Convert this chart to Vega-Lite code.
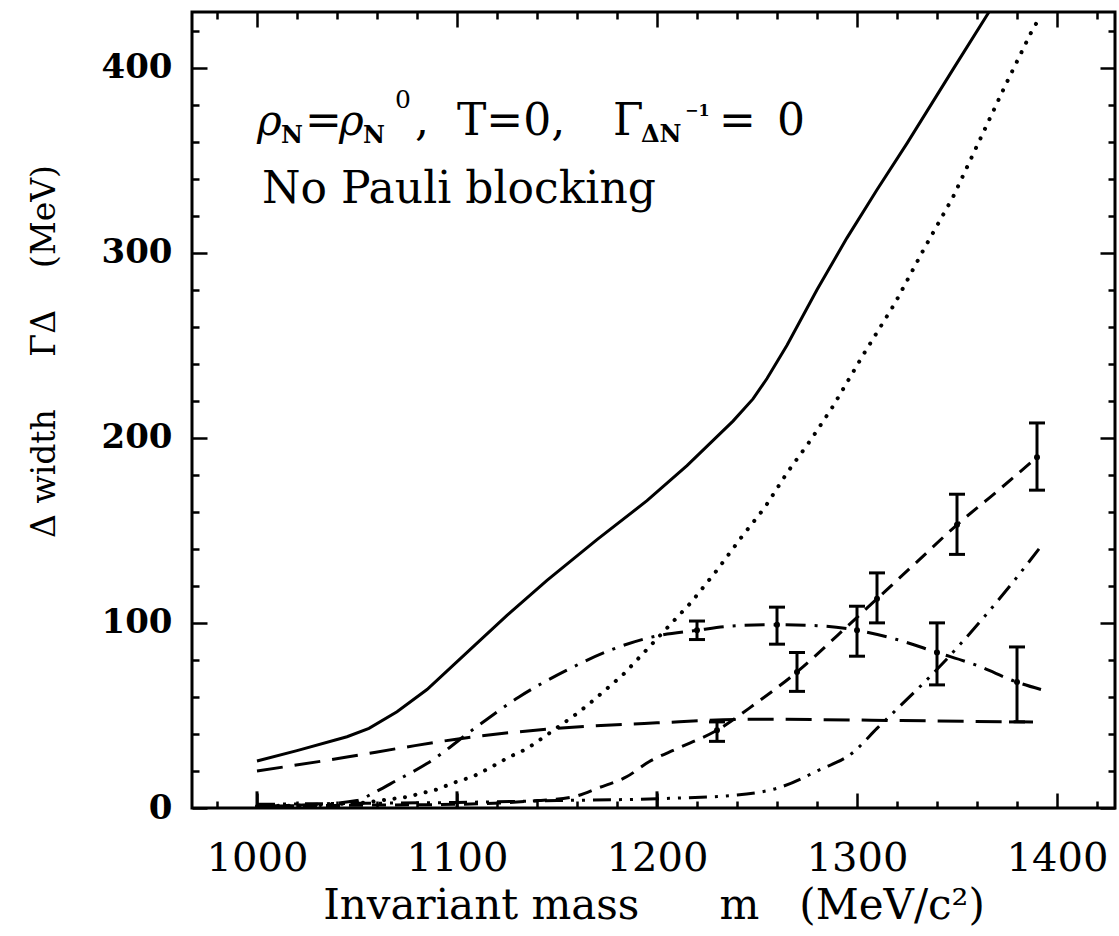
{
  "$schema": "https://vega.github.io/schema/vega-lite/v6.json",
  "width": 923,
  "height": 796,
  "autosize": {"type": "none"},
  "padding": {"left": 192, "top": 12, "right": 4, "bottom": 128},
  "background": "white",
  "config": {
    "view": {"stroke": "black", "strokeWidth": 3},
    "axis": {"grid": false, "domain": false, "tickColor": "black", "tickWidth": 2.5, "labelColor": "black", "titleColor": "black", "labelOverlap": false, "labelFlush": false, "titleFontWeight": "normal"}
  },
  "datasets": {
    "curves": [
      {"s": "solid", "m": 1000, "g": 25.4}, {"s": "solid", "m": 1020, "g": 31}, {"s": "solid", "m": 1045, "g": 38.5}, {"s": "solid", "m": 1056, "g": 43}, {"s": "solid", "m": 1070, "g": 52}, {"s": "solid", "m": 1085, "g": 64}, {"s": "solid", "m": 1108, "g": 87}, {"s": "solid", "m": 1125, "g": 104}, {"s": "solid", "m": 1145, "g": 123}, {"s": "solid", "m": 1170, "g": 145}, {"s": "solid", "m": 1195, "g": 166}, {"s": "solid", "m": 1215, "g": 185}, {"s": "solid", "m": 1238, "g": 209}, {"s": "solid", "m": 1248, "g": 221}, {"s": "solid", "m": 1255, "g": 232}, {"s": "solid", "m": 1265, "g": 250}, {"s": "solid", "m": 1280, "g": 280}, {"s": "solid", "m": 1295, "g": 308}, {"s": "solid", "m": 1310, "g": 334}, {"s": "solid", "m": 1325, "g": 359}, {"s": "solid", "m": 1348, "g": 399}, {"s": "solid", "m": 1366, "g": 430}, {"s": "solid", "m": 1372, "g": 440},
      {"s": "dotted", "m": 1000, "g": 1}, {"s": "dotted", "m": 1030, "g": 1.5}, {"s": "dotted", "m": 1055, "g": 3}, {"s": "dotted", "m": 1075, "g": 6}, {"s": "dotted", "m": 1090, "g": 10}, {"s": "dotted", "m": 1098, "g": 13.5}, {"s": "dotted", "m": 1108, "g": 17}, {"s": "dotted", "m": 1117, "g": 22}, {"s": "dotted", "m": 1126, "g": 27.5}, {"s": "dotted", "m": 1135, "g": 32}, {"s": "dotted", "m": 1143, "g": 38}, {"s": "dotted", "m": 1160, "g": 51}, {"s": "dotted", "m": 1168, "g": 58}, {"s": "dotted", "m": 1183, "g": 72}, {"s": "dotted", "m": 1197, "g": 88}, {"s": "dotted", "m": 1217, "g": 111}, {"s": "dotted", "m": 1230, "g": 128.5}, {"s": "dotted", "m": 1242, "g": 146}, {"s": "dotted", "m": 1254, "g": 162.5}, {"s": "dotted", "m": 1265, "g": 181}, {"s": "dotted", "m": 1277, "g": 199}, {"s": "dotted", "m": 1288, "g": 217}, {"s": "dotted", "m": 1303, "g": 244.6}, {"s": "dotted", "m": 1319, "g": 272.7}, {"s": "dotted", "m": 1333, "g": 301}, {"s": "dotted", "m": 1348, "g": 330}, {"s": "dotted", "m": 1361, "g": 360}, {"s": "dotted", "m": 1374, "g": 390}, {"s": "dotted", "m": 1388, "g": 421}, {"s": "dotted", "m": 1392, "g": 428},
      {"s": "longdash", "m": 1000, "g": 20}, {"s": "longdash", "m": 1045, "g": 27.5}, {"s": "longdash", "m": 1075, "g": 33}, {"s": "longdash", "m": 1105, "g": 38}, {"s": "longdash", "m": 1150, "g": 43}, {"s": "longdash", "m": 1200, "g": 46}, {"s": "longdash", "m": 1250, "g": 48}, {"s": "longdash", "m": 1300, "g": 47.5}, {"s": "longdash", "m": 1340, "g": 47}, {"s": "longdash", "m": 1388, "g": 46.5},
      {"s": "dashdot", "m": 1000, "g": 1}, {"s": "dashdot", "m": 1030, "g": 2}, {"s": "dashdot", "m": 1050, "g": 4}, {"s": "dashdot", "m": 1058, "g": 8}, {"s": "dashdot", "m": 1070, "g": 15}, {"s": "dashdot", "m": 1085, "g": 24}, {"s": "dashdot", "m": 1110, "g": 44}, {"s": "dashdot", "m": 1131, "g": 60}, {"s": "dashdot", "m": 1155, "g": 74.5}, {"s": "dashdot", "m": 1176, "g": 85}, {"s": "dashdot", "m": 1198, "g": 92.5}, {"s": "dashdot", "m": 1220, "g": 96}, {"s": "dashdot", "m": 1240, "g": 98.5}, {"s": "dashdot", "m": 1260, "g": 99}, {"s": "dashdot", "m": 1280, "g": 98.5}, {"s": "dashdot", "m": 1300, "g": 96}, {"s": "dashdot", "m": 1320, "g": 91}, {"s": "dashdot", "m": 1340, "g": 84}, {"s": "dashdot", "m": 1360, "g": 77}, {"s": "dashdot", "m": 1380, "g": 68}, {"s": "dashdot", "m": 1392, "g": 64},
      {"s": "dashed", "m": 1000, "g": 1}, {"s": "dashed", "m": 1050, "g": 1.5}, {"s": "dashed", "m": 1100, "g": 2}, {"s": "dashed", "m": 1140, "g": 4}, {"s": "dashed", "m": 1158, "g": 6}, {"s": "dashed", "m": 1171, "g": 11}, {"s": "dashed", "m": 1185, "g": 17}, {"s": "dashed", "m": 1196, "g": 25}, {"s": "dashed", "m": 1210, "g": 32}, {"s": "dashed", "m": 1230, "g": 42}, {"s": "dashed", "m": 1250, "g": 57}, {"s": "dashed", "m": 1270, "g": 73.5}, {"s": "dashed", "m": 1290, "g": 93}, {"s": "dashed", "m": 1310, "g": 113}, {"s": "dashed", "m": 1330, "g": 133}, {"s": "dashed", "m": 1350, "g": 153}, {"s": "dashed", "m": 1370, "g": 171}, {"s": "dashed", "m": 1390, "g": 189.5},
      {"s": "dashdotdot", "m": 1000, "g": 2}, {"s": "dashdotdot", "m": 1050, "g": 2.5}, {"s": "dashdotdot", "m": 1100, "g": 3}, {"s": "dashdotdot", "m": 1150, "g": 4}, {"s": "dashdotdot", "m": 1200, "g": 5}, {"s": "dashdotdot", "m": 1240, "g": 7}, {"s": "dashdotdot", "m": 1261, "g": 11}, {"s": "dashdotdot", "m": 1281, "g": 20.5}, {"s": "dashdotdot", "m": 1298, "g": 30}, {"s": "dashdotdot", "m": 1310, "g": 43}, {"s": "dashdotdot", "m": 1321, "g": 54.5}, {"s": "dashdotdot", "m": 1341, "g": 76}, {"s": "dashdotdot", "m": 1363, "g": 102.5}, {"s": "dashdotdot", "m": 1378, "g": 122}, {"s": "dashdotdot", "m": 1391, "g": 140}
    ],
    "bars": [
      {"s": "dashdot", "m": 1220, "g": 96, "lo": 91, "hi": 101},
      {"s": "dashdot", "m": 1260, "g": 99, "lo": 88.5, "hi": 108.5},
      {"s": "dashdot", "m": 1300, "g": 96, "lo": 82, "hi": 109},
      {"s": "dashdot", "m": 1340, "g": 84, "lo": 66.5, "hi": 100},
      {"s": "dashdot", "m": 1380, "g": 68, "lo": 46.5, "hi": 87},
      {"s": "dashed", "m": 1230, "g": 42, "lo": 36, "hi": 46.5},
      {"s": "dashed", "m": 1270, "g": 73.5, "lo": 63, "hi": 84},
      {"s": "dashed", "m": 1310, "g": 113, "lo": 100, "hi": 127},
      {"s": "dashed", "m": 1350, "g": 153, "lo": 137, "hi": 169.5},
      {"s": "dashed", "m": 1390, "g": 189.5, "lo": 171.7, "hi": 208},
      {"s": "dashdotdot", "m": 1000, "g": 3, "lo": 0, "hi": 9},
      {"s": "dashdotdot", "m": 1100, "g": 3, "lo": 0, "hi": 9},
      {"s": "dashdotdot", "m": 1200, "g": 5, "lo": 0.5, "hi": 9}
    ],
    "notes": [
      {"r": "greek", "t": "ρ", "m": 1000, "g": 363.4},
      {"r": "sub", "t": "N", "m": 1012, "g": 359},
      {"r": "main", "t": "=", "m": 1024, "g": 363.4},
      {"r": "greek", "t": "ρ", "m": 1041, "g": 363.4},
      {"r": "sub", "t": "N", "m": 1053, "g": 359},
      {"r": "sup", "t": "0", "m": 1069, "g": 378},
      {"r": "main", "t": ",", "m": 1079, "g": 363.4},
      {"r": "main", "t": "T=0,", "m": 1100, "g": 363.4},
      {"r": "main", "t": "Γ", "m": 1178, "g": 363.4},
      {"r": "sub", "t": "ΔN", "m": 1192, "g": 360},
      {"r": "sup2", "t": "−1", "m": 1214, "g": 374},
      {"r": "main", "t": "=", "m": 1231, "g": 363.4},
      {"r": "main", "t": "0", "m": 1260, "g": 363.4},
      {"r": "main", "t": "No Pauli blocking", "m": 1002.5, "g": 326.7}
    ]
  },
  "resolve": {"axis": {"x": "independent", "y": "independent"}},
  "layer": [
    {
      "data": {"name": "curves"},
      "transform": [{"filter": "datum.s === 'solid'"}],
      "mark": {"type": "line", "color": "black", "strokeWidth": 3, "clip": true},
      "encoding": {
        "x": {"field": "m", "type": "quantitative", "scale": {"domain": [967.5, 1429], "nice": false, "zero": false},
          "axis": {"orient": "bottom", "values": [980, 1000, 1020, 1040, 1060, 1080, 1100, 1120, 1140, 1160, 1180, 1200, 1220, 1240, 1260, 1280, 1300, 1320, 1340, 1360, 1380, 1400, 1420],
            "labelExpr": "datum.value % 100 === 0 ? datum.label : ''", "format": "d",
            "tickSize": {"condition": {"test": "datum.value % 100 === 0", "value": -15}, "value": -7},
            "labelFont": "DejaVu Serif", "labelFontSize": 40, "labelPadding": 32, "labelBaseline": "line-top", "labelLineHeight": 66,
            "title": "Invariant mass\u00a0\u00a0\u00a0\u00a0\u00a0\u00a0m\u00a0\u00a0\u00a0(MeV/c²)", "titleFont": "DejaVu Serif", "titleFontSize": 42, "titleBaseline": "alphabetic", "titleY": 110}},
        "y": {"field": "g", "type": "quantitative", "scale": {"domain": [0, 430], "nice": false, "zero": false},
          "axis": {"orient": "left", "values": [0, 20, 40, 60, 80, 100, 120, 140, 160, 180, 200, 220, 240, 260, 280, 300, 320, 340, 360, 380, 400, 420],
            "labelExpr": "datum.value % 100 === 0 ? datum.label + '\u2009' : ''", "format": "d",
            "tickSize": {"condition": {"test": "datum.value % 100 === 0", "value": -15}, "value": -7},
            "labelFont": "DejaVu Serif", "labelFontWeight": "bold", "labelFontSize": 34, "labelPadding": 35,
            "title": "Δ width\u00a0\u00a0\u00a0\u00a0\u00a0ΓΔ\u00a0\u00a0\u00a0\u00a0(MeV)", "titleFont": "DejaVu Serif", "titleFontSize": 33, "titlePadding": 40, "titleY": 339}}
      }
    },
    {
      "data": {"name": "curves"},
      "transform": [{"filter": "datum.s === 'dotted'"}],
      "mark": {"type": "line", "color": "black", "strokeWidth": 4, "strokeDash": [0.1, 10.5], "strokeCap": "round", "clip": true},
      "encoding": {
        "x": {"field": "m", "type": "quantitative",
          "axis": {"orient": "top", "values": [980, 1000, 1020, 1040, 1060, 1080, 1100, 1120, 1140, 1160, 1180, 1200, 1220, 1240, 1260, 1280, 1300, 1320, 1340, 1360, 1380, 1400, 1420],
            "labels": false, "title": null,
            "tickSize": {"condition": {"test": "datum.value % 100 === 0", "value": -15}, "value": -7}}},
        "y": {"field": "g", "type": "quantitative",
          "axis": {"orient": "right", "values": [0, 20, 40, 60, 80, 100, 120, 140, 160, 180, 200, 220, 240, 260, 280, 300, 320, 340, 360, 380, 400, 420],
            "labels": false, "title": null,
            "tickSize": {"condition": {"test": "datum.value % 100 === 0", "value": -15}, "value": -7}}}
      }
    },
    {
      "data": {"name": "curves"},
      "transform": [{"filter": "datum.s === 'longdash'"}],
      "mark": {"type": "line", "color": "black", "strokeWidth": 3, "strokeDash": [26, 12], "interpolate": "monotone", "clip": true},
      "encoding": {"x": {"field": "m", "type": "quantitative", "axis": null}, "y": {"field": "g", "type": "quantitative", "axis": null}}
    },
    {
      "data": {"name": "curves"},
      "transform": [{"filter": "datum.s === 'dashdot'"}],
      "mark": {"type": "line", "color": "black", "strokeWidth": 3, "strokeDash": [20, 9, 3, 9], "interpolate": "monotone", "clip": true},
      "encoding": {"x": {"field": "m", "type": "quantitative", "axis": null}, "y": {"field": "g", "type": "quantitative", "axis": null}}
    },
    {
      "data": {"name": "curves"},
      "transform": [{"filter": "datum.s === 'dashed'"}],
      "mark": {"type": "line", "color": "black", "strokeWidth": 3, "strokeDash": [14, 9], "interpolate": "monotone", "clip": true},
      "encoding": {"x": {"field": "m", "type": "quantitative", "axis": null}, "y": {"field": "g", "type": "quantitative", "axis": null}}
    },
    {
      "data": {"name": "curves"},
      "transform": [{"filter": "datum.s === 'dashdotdot'"}],
      "mark": {"type": "line", "color": "black", "strokeWidth": 3, "strokeDash": [18, 8, 3, 8, 3, 8], "interpolate": "monotone", "clip": true},
      "encoding": {"x": {"field": "m", "type": "quantitative", "axis": null}, "y": {"field": "g", "type": "quantitative", "axis": null}}
    },
    {
      "data": {"name": "bars"},
      "mark": {"type": "rule", "color": "black", "strokeWidth": 3},
      "encoding": {"x": {"field": "m", "type": "quantitative", "axis": null}, "y": {"field": "lo", "type": "quantitative", "axis": null}, "y2": {"field": "hi"}}
    },
    {
      "data": {"name": "bars"},
      "transform": [{"filter": "datum.s !== 'dashdotdot'"}],
      "mark": {"type": "tick", "color": "black", "orient": "horizontal", "size": 16, "thickness": 3, "opacity": 1},
      "encoding": {"x": {"field": "m", "type": "quantitative", "axis": null}, "y": {"field": "lo", "type": "quantitative", "axis": null}}
    },
    {
      "data": {"name": "bars"},
      "transform": [{"filter": "datum.s !== 'dashdotdot'"}],
      "mark": {"type": "tick", "color": "black", "orient": "horizontal", "size": 16, "thickness": 3, "opacity": 1},
      "encoding": {"x": {"field": "m", "type": "quantitative", "axis": null}, "y": {"field": "hi", "type": "quantitative", "axis": null}}
    },
    {
      "data": {"name": "bars"},
      "transform": [{"filter": "datum.s !== 'dashdotdot'"}],
      "mark": {"type": "circle", "color": "black", "size": 36, "opacity": 1},
      "encoding": {"x": {"field": "m", "type": "quantitative", "axis": null}, "y": {"field": "g", "type": "quantitative", "axis": null}}
    },
    {
      "data": {"name": "notes"},
      "transform": [{"filter": "datum.r === 'main'"}],
      "mark": {"type": "text", "align": "left", "baseline": "alphabetic", "font": "DejaVu Serif", "fontSize": 44, "color": "black"},
      "encoding": {"x": {"field": "m", "type": "quantitative", "axis": null}, "y": {"field": "g", "type": "quantitative", "axis": null}, "text": {"field": "t"}}
    },
    {
      "data": {"name": "notes"},
      "transform": [{"filter": "datum.r === 'greek'"}],
      "mark": {"type": "text", "align": "left", "baseline": "alphabetic", "font": "DejaVu Serif", "fontStyle": "italic", "fontSize": 42, "color": "black"},
      "encoding": {"x": {"field": "m", "type": "quantitative", "axis": null}, "y": {"field": "g", "type": "quantitative", "axis": null}, "text": {"field": "t"}}
    },
    {
      "data": {"name": "notes"},
      "transform": [{"filter": "datum.r === 'sub'"}],
      "mark": {"type": "text", "align": "left", "baseline": "alphabetic", "font": "DejaVu Serif", "fontWeight": "bold", "fontSize": 24, "color": "black"},
      "encoding": {"x": {"field": "m", "type": "quantitative", "axis": null}, "y": {"field": "g", "type": "quantitative", "axis": null}, "text": {"field": "t"}}
    },
    {
      "data": {"name": "notes"},
      "transform": [{"filter": "datum.r === 'sup'"}],
      "mark": {"type": "text", "align": "left", "baseline": "alphabetic", "font": "DejaVu Serif", "fontSize": 25, "color": "black"},
      "encoding": {"x": {"field": "m", "type": "quantitative", "axis": null}, "y": {"field": "g", "type": "quantitative", "axis": null}, "text": {"field": "t"}}
    },
    {
      "data": {"name": "notes"},
      "transform": [{"filter": "datum.r === 'sup2'"}],
      "mark": {"type": "text", "align": "left", "baseline": "alphabetic", "font": "DejaVu Serif", "fontWeight": "bold", "fontSize": 16, "color": "black"},
      "encoding": {"x": {"field": "m", "type": "quantitative", "axis": null}, "y": {"field": "g", "type": "quantitative", "axis": null}, "text": {"field": "t"}}
    }
  ]
}
